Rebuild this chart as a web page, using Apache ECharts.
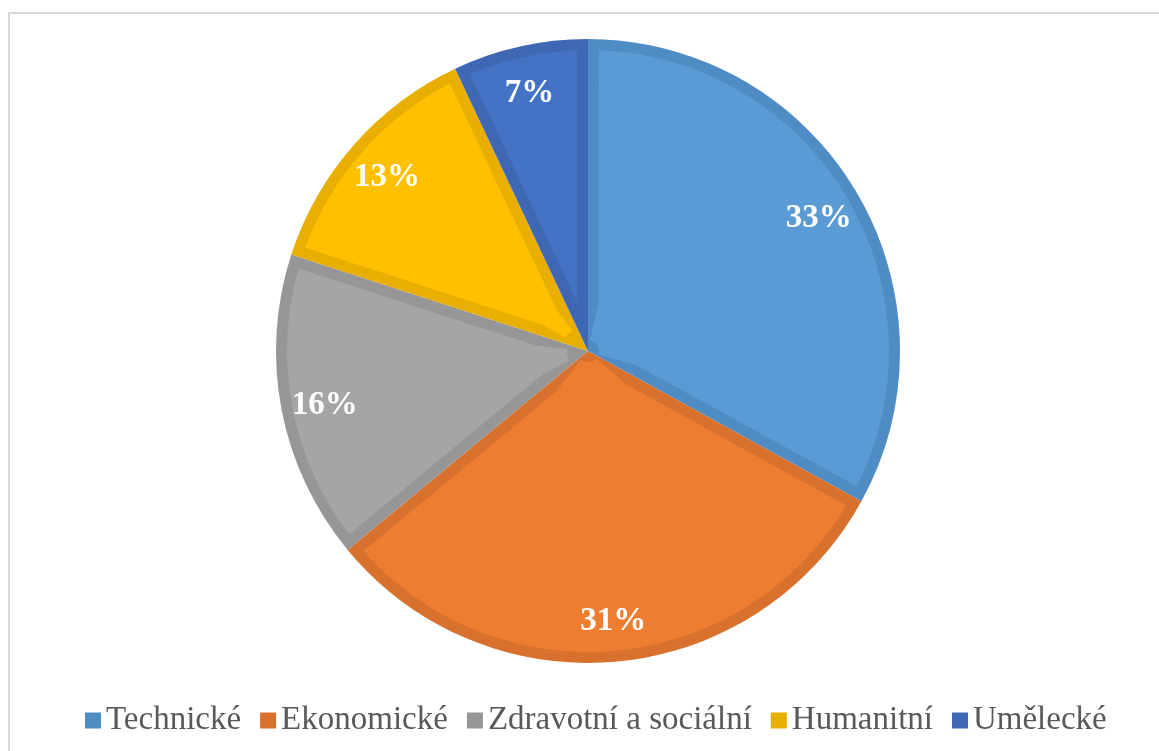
<!DOCTYPE html>
<html>
<head>
<meta charset="utf-8">
<script src="https://cdn.jsdelivr.net/npm/echarts@6/dist/echarts.min.js"></script>
<style>
html,body{margin:0;padding:0;background:#fff;}
#frame{position:absolute;left:8px;top:12px;width:1151px;height:739px;border-top:2px solid #d9d9d9;border-left:2px solid #d9d9d9;}
#chart{position:absolute;left:0;top:0;width:1159px;height:751px;}
</style>
</head>
<body>
<div id="frame"></div>
<div id="chart"></div>
<script>
// obory - podil v procentech
var categories = ['Technické', 'Ekonomické', 'Zdravotní a sociální', 'Humanitní', 'Umělecké'];
var shares = [33, 31, 16, 13, 7];

var lightColors = ['#5b9bd5', '#ed7d31', '#a5a5a5', '#ffc000', '#4472c4'];
var darkColors = ['#4f8cc4', '#d8712d', '#969696', '#e8ae00', '#3e68b4'];

function makeData(colors){
	var arr = [];
	for(var i=0;i<categories.length;i++){
		arr.push({name: categories[i], value: shares[i], itemStyle: {color: colors[i]}});
	}
	return arr;
}

var center = [588, 351];
var outerR = 312;
var borderW = 11; // tloustka okraje kazde vysece
var innerR = outerR - borderW;

var total = 0;
for(var i=0;i<shares.length;i++){ total += shares[i]; }
var minAngle = 360;
for(var i=0;i<shares.length;i++){ minAngle = Math.min(minAngle, shares[i] / total * 360); }

var series = [];
// spodni vrstva - tmavsi barvy
series.push({
	type: 'pie',
	center: center,
	radius: outerR,
	startAngle: 90,
	silent: true,
	label: {show: false},
	labelLine: {show: false},
	data: makeData(darkColors)
});

// svetla vypln po tenkych prstencich, aby okraj mel stale stejnou sirku
var ringStep = 5;
for(var r0=12;r0<innerR;r0+=ringStep){
	var r1 = Math.min(r0 + ringStep, innerR);
	var rm = (r0 + r1) / 2;
	var want = 2 * Math.asin(Math.min(1, borderW / rm)) * 180 / Math.PI;
	var pad = Math.min(want, minAngle - 0.5);
	var ringColors = [];
	for(var j=0;j<shares.length;j++){
		// uzka vysec u stredu uz nema svetlou vypln
		ringColors.push(shares[j] / total * 360 <= want ? darkColors[j] : lightColors[j]);
	}
	series.push({
		type: 'pie',
		center: center,
		radius: [Math.max(r0 - 1, 0), r1],
		startAngle: 90,
		padAngle: pad,
		silent: true,
		label: {show: false},
		labelLine: {show: false},
		data: makeData(ringColors)
	});
}

// popisky
var labelData = [];
for(var i=0;i<categories.length;i++){
	labelData.push({name: categories[i], value: shares[i], itemStyle: {color: 'rgba(0,0,0,0)'}});
}
series.push({
	type: 'pie',
	center: center,
	radius: [218, 312],
	startAngle: 90,
	silent: true,
	label: {
		show: true,
		position: 'inside',
		formatter: '{c}%',
		color: '#fff',
		fontFamily: 'Liberation Serif',
		fontWeight: 'bold',
		fontSize: 33,
		offset: [0, 4]
	},
	labelLine: {show: false},
	data: labelData
});

var option = {
	animation: false,
	legend: {
		data: categories,
		left: 80,
		top: 699,
		icon: 'rect',
		itemWidth: 16,
		itemHeight: 16,
		itemGap: 19,
		textStyle: {fontFamily: 'Liberation Serif', fontSize: 33, color: '#595959'}
	},
	series: series
};

var myChart = echarts.init(document.getElementById('chart'));
myChart.setOption(option);
</script>
</body>
</html>
